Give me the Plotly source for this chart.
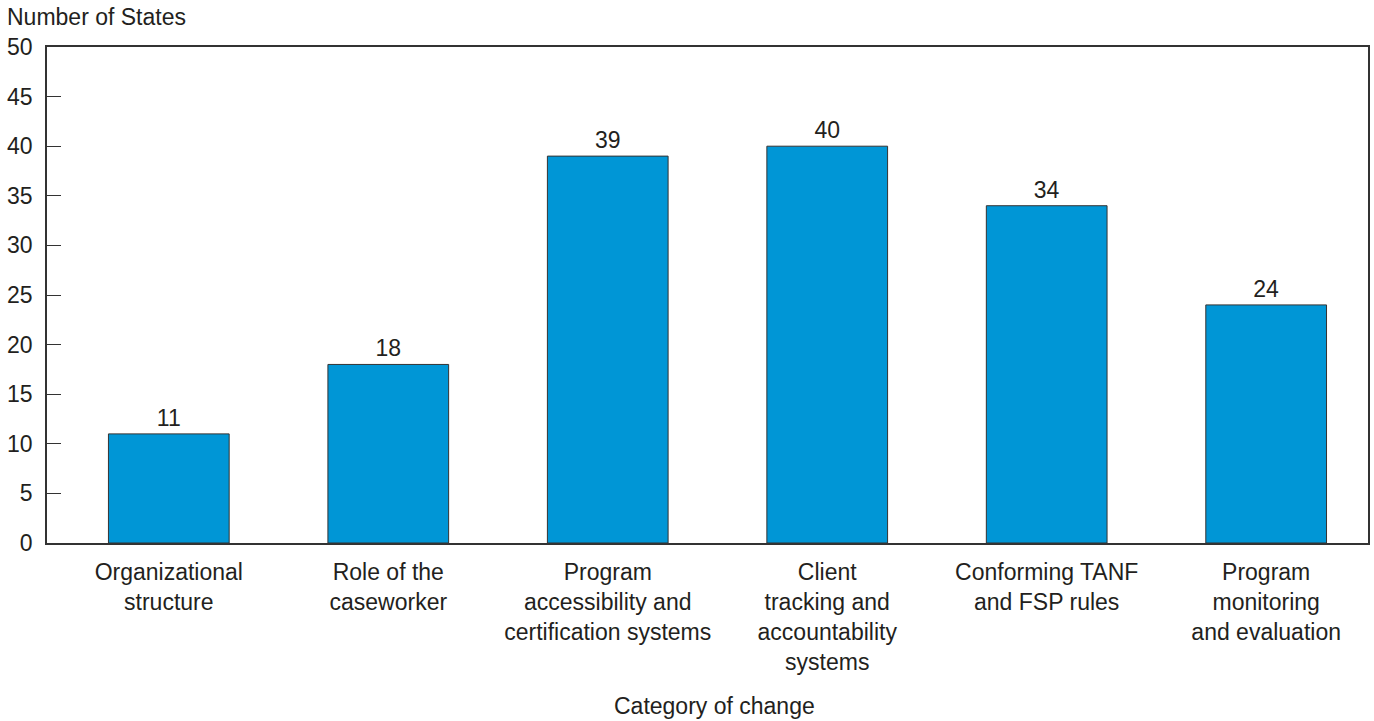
import plotly.graph_objects as go

categories = [
    "Organizational<br>structure",
    "Role of the<br>caseworker",
    "Program<br>accessibility and<br>certification systems",
    "Client<br>tracking and<br>accountability<br>systems",
    "Conforming TANF<br>and FSP rules",
    "Program<br>monitoring<br>and evaluation",
]
values = [11, 18, 39, 40, 34, 24]
y_ticks = [0, 5, 10, 15, 20, 25, 30, 35, 40, 45, 50]

FONT = "Liberation Sans, Arial, sans-serif"
TXT = "#231f20"
FS = 23

fig = go.Figure(go.Bar(
    x=categories, y=values,
    marker=dict(color="#0096d6", line=dict(color="#333333", width=1)),
    width=0.55,
    text=[str(v) for v in values], textposition="outside",
    textfont=dict(size=FS, color=TXT, family=FONT),
    cliponaxis=False,
))

fig.update_layout(
    width=1374, height=721,
    margin=dict(l=47, r=4, t=47, b=178),
    plot_bgcolor="white", paper_bgcolor="white",
    font=dict(family=FONT, size=FS, color=TXT),
    showlegend=False,
)
fig.update_xaxes(
    range=[-0.555, 5.464],
    showline=True, linecolor="#333333", linewidth=1.5, mirror=True,
    ticks="", ticklabelstandoff=8, tickfont=dict(size=FS, color=TXT),
    showgrid=False,
)
fig.update_yaxes(
    range=[0, 50], tickvals=y_ticks, ticktext=[str(t) for t in y_ticks],
    showline=True, linecolor="#333333", linewidth=1.5, mirror=True,
    ticks="inside", ticklen=14, tickcolor="#333333", tickwidth=1,
    showgrid=False, zeroline=False, tickfont=dict(size=FS, color=TXT),
    ticklabelstandoff=8,
)
fig.add_annotation(text="Number of States", xref="paper", yref="paper",
                   x=0, y=1, xshift=-42, yshift=30, xanchor="left", yanchor="middle",
                   showarrow=False, font=dict(size=FS, color=TXT))
fig.add_annotation(text="Category of change", xref="paper", yref="paper",
                   x=0.505, y=0, yshift=-163, xanchor="center", yanchor="middle",
                   showarrow=False, font=dict(size=FS, color=TXT))

fig.write_html("out.html")
